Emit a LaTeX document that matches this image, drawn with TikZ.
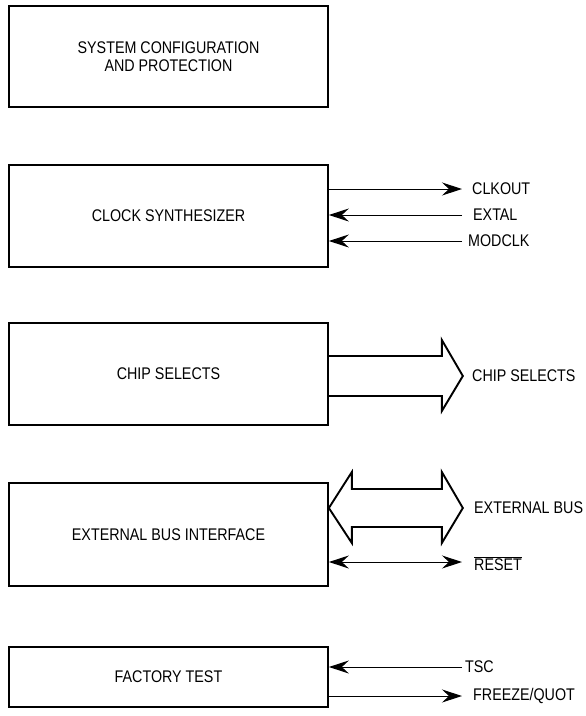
\documentclass[tikz,border=0pt]{standalone}
\usepackage{fontspec}
\usepackage{graphicx}
\setmainfont{Liberation Sans}
\usetikzlibrary{arrows.meta,calc}
\newcommand\stt[1]{\scalebox{1}[1.18]{#1}}
\begin{document}
\begin{tikzpicture}[x=1pt,y=-1pt,
  >={Stealth[length=20pt,width=13pt,inset=7pt]},
  txt/.style={font=\fontsize{14.3}{17}\selectfont},
  blk/.style={draw,line width=1.7pt,minimum width=319pt,inner sep=0pt,align=center,txt},
  lbl/.style={anchor=west,inner sep=0pt,txt},
  sig/.style={line width=1pt},
  bigarrow/.style={line width=1.9pt,line join=miter}]
\useasboundingbox (0,0) rectangle (586,716);
% blocks
\node[blk,minimum height=101pt] (scp) at (168.5,56.5) {\stt{SYSTEM CONFIGURATION}\\[1pt]\stt{AND PROTECTION}};
\node[blk,minimum height=102pt] (clk) at (168.5,216) {\stt{CLOCK SYNTHESIZER}};
\node[blk,minimum height=102pt] (cs) at (168.5,374) {\stt{CHIP SELECTS}};
\node[blk,minimum height=103pt] (ebi) at (168.5,534.5) {\stt{EXTERNAL BUS INTERFACE}};
\node[blk,minimum height=60pt] (ft) at (168.5,677) {\stt{FACTORY TEST}};
% labels
\node[lbl] (clkout) at (472,189) {\stt{CLKOUT}};
\node[lbl] (extal) at (473,215) {\stt{EXTAL}};
\node[lbl] (modclk) at (468,241) {\stt{MODCLK}};
\node[lbl] (csl) at (472,376) {\stt{CHIP SELECTS}};
\node[lbl] (ebus) at (474,508) {\stt{EXTERNAL BUS}};
\node[lbl] (reset) at (474,564) {\stt{$\overline{\mbox{RESET}}$}};
\node[lbl] (tsc) at (465,667) {\stt{TSC}};
\node[lbl] (frz) at (473,696) {\stt{FREEZE/QUOT}};
% signal end points
\coordinate (e1) at (462,189);
\coordinate (e2) at (462,215);
\coordinate (e3) at (462,241);
\coordinate (e4) at (462,562);
\coordinate (e5) at (462,667);
\coordinate (e6) at (462,696);
\draw[sig,->] (clk.east |- e1) -- (e1);
\draw[sig,->] (e2) -- (clk.east |- e2);
\draw[sig,->] (e3) -- (clk.east |- e3);
\draw[sig,<->] (ebi.east |- e4) -- (e4);
\draw[sig,->] (e5) -- (ft.east |- e5);
\draw[sig,->] (ft.east |- e6) -- (e6);
% big arrows
\coordinate (c0) at (cs.east |- csl.west);
\draw[bigarrow] ($(c0)+(0,-20)$) -- ($(c0)+(113,-20)$) -- ($(c0)+(113,-36)$) -- ($(c0)+(134,0)$)
  -- ($(c0)+(113,35)$) -- ($(c0)+(113,20)$) -- ($(c0)+(0,20)$);
\coordinate (b0) at (ebi.east |- ebus.west);
\draw[bigarrow] (b0) -- ($(b0)+(23,-36)$) -- ($(b0)+(23,-19)$) -- ($(b0)+(113,-19)$) -- ($(b0)+(113,-36)$)
  -- ($(b0)+(134,0)$) -- ($(b0)+(113,35)$) -- ($(b0)+(113,19)$) -- ($(b0)+(23,19)$) -- ($(b0)+(23,35)$) -- cycle;
\end{tikzpicture}
\end{document}
